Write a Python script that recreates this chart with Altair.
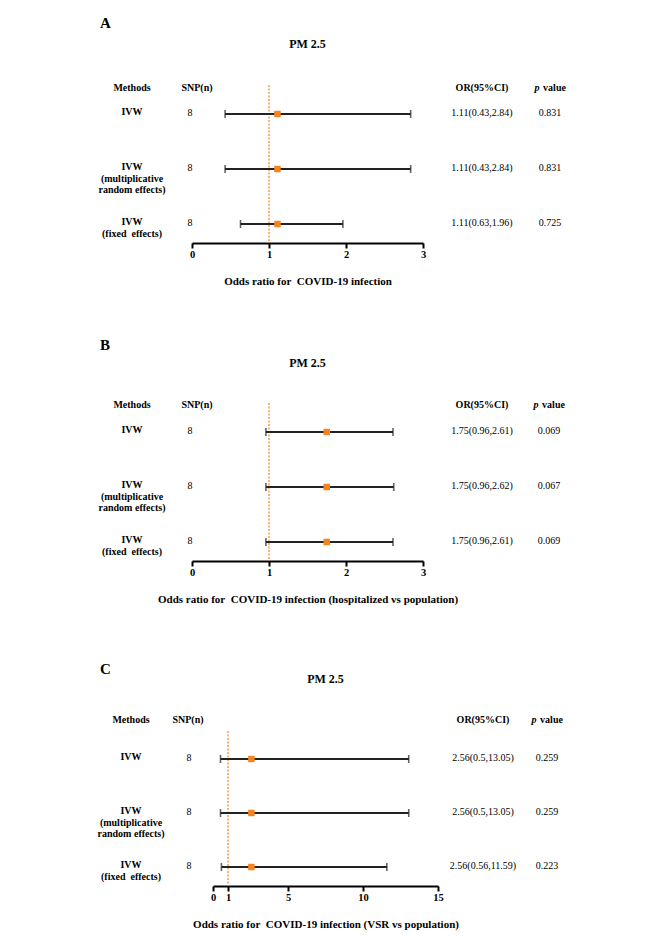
import altair as alt
import pandas as pd

FONT = "Liberation Serif"
ORANGE = "#F5841F"
LINE = "#222222"

# ---------------- data ----------------
rows = [1, 2, 3]
methods = ["IVW", "IVW\n(multiplicative\nrandom effects)", "IVW\n(fixed\u00a0 effects)"]
snp = [8, 8, 8]

a_or = [1.11, 1.11, 1.11]
a_lo = [0.43, 0.43, 0.63]
a_hi = [2.84, 2.84, 1.96]
a_ci = ["1.11(0.43,2.84)", "1.11(0.43,2.84)", "1.11(0.63,1.96)"]
a_p = ["0.831", "0.831", "0.725"]
a_ticks = [0, 1, 2, 3]
a_title = "Odds ratio for\u00a0 COVID-19 infection"

b_or = [1.75, 1.75, 1.75]
b_lo = [0.96, 0.96, 0.96]
b_hi = [2.61, 2.62, 2.61]
b_ci = ["1.75(0.96,2.61)", "1.75(0.96,2.62)", "1.75(0.96,2.61)"]
b_p = ["0.069", "0.067", "0.069"]
b_ticks = [0, 1, 2, 3]
b_title = "Odds ratio for\u00a0 COVID-19 infection (hospitalized vs population)"

c_or = [2.56, 2.56, 2.56]
c_lo = [0.5, 0.5, 0.56]
c_hi = [13.05, 13.05, 11.59]
c_ci = ["2.56(0.5,13.05)", "2.56(0.5,13.05)", "2.56(0.56,11.59)"]
c_p = ["0.259", "0.259", "0.223"]
c_ticks = [0, 1, 5, 10, 15]
c_title = "Odds ratio for\u00a0 COVID-19 infection (VSR vs population)"

ref_value = [1]


def label(text, x, y, size=10, weight="normal", style="normal", align="center", opacity=1):
    return alt.Chart(pd.DataFrame({"t": [text]})).mark_text(
        font=FONT, fontSize=size, fontWeight=weight, fontStyle=style, align=align,
        baseline="middle", color="black", opacity=opacity
    ).encode(text="t:N", x=alt.value(x), y=alt.value(y))


def panel(letter, title, est, lo, hi, ci, p, xmax, ticks, x0, W, H, p1, step, lay):
    df = pd.DataFrame({"row": rows, "method": methods, "snp": snp, "est": est,
                       "lo": lo, "hi": hi, "ci": ci, "pval": p})
    xs = alt.Scale(domain=[0, xmax], range=[x0, W], nice=False, zero=False)
    ys = alt.Scale(domain=[1 - p1 / step, 1 + (H - p1) / step], reverse=True, nice=False, zero=False)
    ax = alt.Axis(values=ticks, title=title, grid=False, format="d",
                  domainColor="black", domainWidth=2, tickColor="black", tickWidth=2, tickSize=5,
                  labelFont=FONT, labelFontWeight="bold", labelFontSize=10.5, labelColor="black",
                  labelPadding=1, labelOverlap=False, labelFlush=False,
                  titleFont=FONT, titleFontWeight="bold", titleFontSize=11, titleColor="black",
                  titlePadding=16, titleX=(x0 + W) / 2)

    def X(f):
        return alt.X(f, type="quantitative", scale=xs, axis=ax)

    Y = alt.Y("row:Q", scale=ys, axis=None)

    ref = alt.Chart(pd.DataFrame({"ref": ref_value})).mark_rule(
        color=ORANGE, strokeWidth=1.2, strokeDash=[2, 1.5]
    ).encode(x=X("ref"))
    whisk = alt.Chart(df).mark_rule(color=LINE, strokeWidth=1.8).encode(x=X("lo"), x2="hi", y=Y)
    cap_lo = alt.Chart(df).mark_tick(orient="vertical", size=8, thickness=1.6, color=LINE).encode(x=X("lo"), y=Y)
    cap_hi = alt.Chart(df).mark_tick(orient="vertical", size=8, thickness=1.6, color=LINE).encode(x=X("hi"), y=Y)
    pt = alt.Chart(df).mark_square(size=42, color=ORANGE, opacity=1).encode(x=X("est"), y=Y)

    def col(field, x, weight="normal", dy=-1, multiline=False):
        kw = dict(lineBreak="\n", lineHeight=11.5) if multiline else {}
        return alt.Chart(df).mark_text(
            font=FONT, fontSize=10, fontWeight=weight, color="black", align="center",
            baseline="middle", dy=dy, **kw
        ).encode(text=field, x=alt.value(x), y=Y)

    layers = [
        ref, whisk, cap_lo, cap_hi, pt,
        col("method:N", lay["meth"], "bold", -2, True),
        col("snp:N", lay["snp"]),
        col("ci:N", lay["ci"]),
        col("pval:N", lay["p"]),
        label("Methods", lay["meth"], lay["hy"], 10, "bold"),
        label("SNP(n)", lay["snph"], lay["hy"], 10, "bold"),
        label("OR(95%CI)", lay["ci"], lay["hy"], 10, "bold"),
        label("p", lay["p"] - 13, lay["hy"], 10, "bold", "italic"),
        label("value", lay["p"] + 4.5, lay["hy"], 10, "bold"),
        label(letter, lay["lx"], lay["ly"], 15, "bold", align="left"),
        label("PM 2.5", (x0 + W) / 2, lay["ty"], 12, "bold"),
    ]
    if lay.get("extra"):
        layers.append(label(letter, lay["lx"], lay["ly"] - lay["extra"], 15, "bold",
                            align="left", opacity=0))
    return alt.layer(*layers).properties(width=W, height=H)


A = panel("A", a_title, a_or, a_lo, a_hi, a_ci, a_p, 3, a_ticks, 0, 231, 158, 29, 55,
          dict(meth=-60, snp=-2, snph=5, ci=290, p=358, hy=3, lx=-92, ly=-62, ty=-41))
B = panel("B", b_title, b_or, b_lo, b_hi, b_ci, b_p, 3, b_ticks, 0, 231, 158, 29, 55,
          dict(meth=-60, snp=-2, snph=5, ci=290, p=357, hy=2, lx=-92, ly=-58, ty=-40))
C = panel("C", c_title, c_or, c_lo, c_hi, c_ci, c_p, 15, c_ticks, 21, 246, 155, 28, 54,
          dict(meth=-61, snp=-3, snph=-4, ci=291, p=355, hy=-11, lx=-92, ly=-62, ty=-52,
               extra=6))

chart = alt.concat(A, B, C, columns=1, spacing=51).properties(
    padding={"left": 89, "top": 8, "right": 5, "bottom": 5}
).configure_view(stroke=None)

chart.save("out.html", embed_options={"renderer": "svg", "actions": False})
